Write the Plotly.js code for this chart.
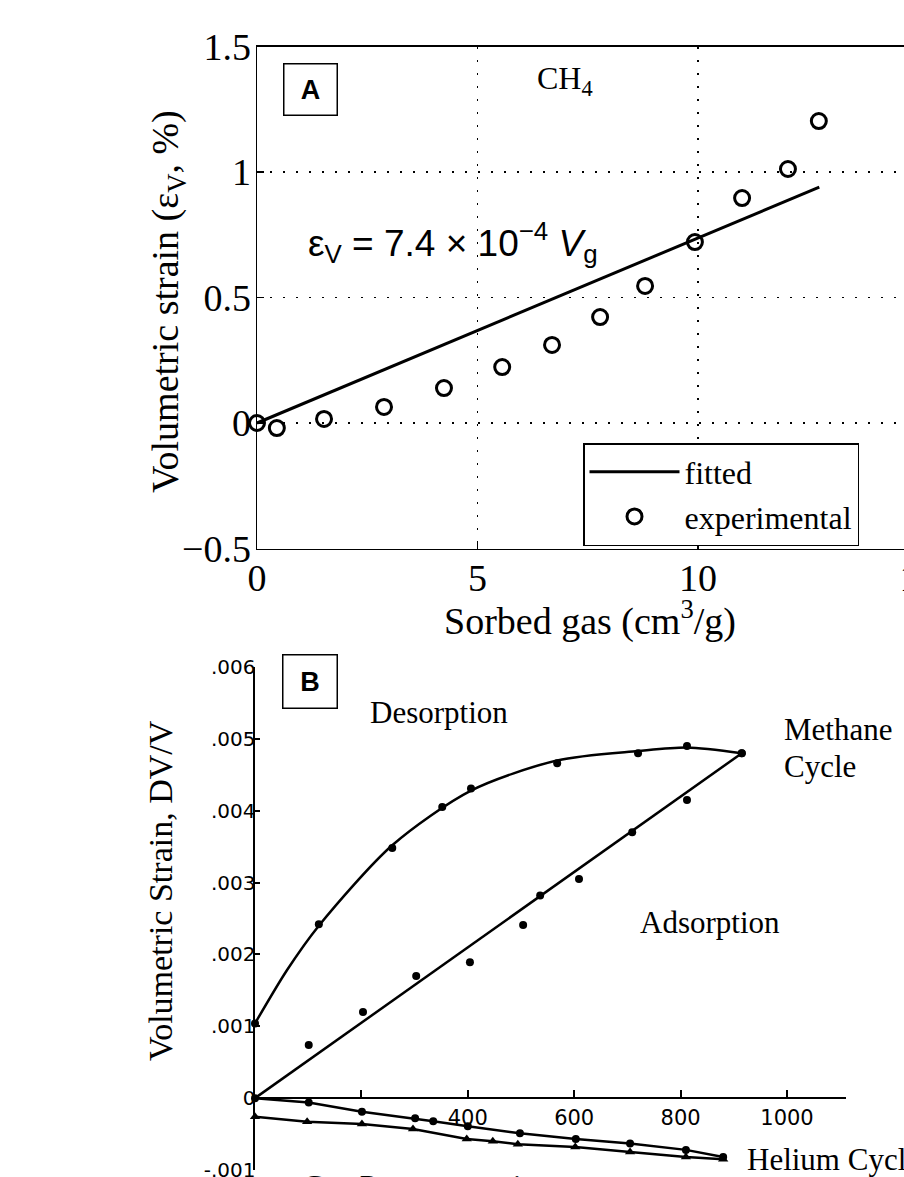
<!DOCTYPE html>
<html>
<head>
<meta charset="utf-8">
<script src="https://cdn.plot.ly/plotly-3.0.1.min.js"></script>
<style>
html,body{margin:0;padding:0;overflow:hidden;background:#fff;width:904px;height:1177px;}
#chart{width:960px;height:1230px;}
</style>
</head>
<body>
<div id="chart"></div>
<script>
// ---------- Panel A data (CH4, sorbed gas vs volumetric strain %) ----------
const sorbedGas   = [0, 0.45, 1.52, 2.88, 4.24, 5.56, 6.69, 7.78, 8.80, 9.93, 11.0, 12.04, 12.74];
const strainExp   = [0, -0.02, 0.016, 0.064, 0.139, 0.223, 0.311, 0.422, 0.546, 0.721, 0.896, 1.012, 1.203];
const fitGas      = [0, 12.75];
const fitStrain   = [0, 0.94];
const aXTickVals  = [0, 5, 10, 15];
const aXTickText  = ['0', '5', '10', '15'];
const aYTickVals  = [-0.5, 0, 0.5, 1, 1.5];
const aYTickText  = ['\u22120.5', '0', '0.5', '1', '1.5'];

// ---------- Panel B data (gas pressure psi vs volumetric strain DV/V) ----------
const desPressure = [0, 120, 258, 352, 406, 568, 720, 812, 915];
const desStrain   = [0.00104, 0.00242, 0.00348, 0.00405, 0.00431, 0.00466, 0.00480, 0.00490, 0.00480];
const desCurveP   = [0, 60, 120, 258, 406, 568, 720, 812, 915];
const desCurveS   = [0.00104, 0.00178, 0.0024, 0.00352, 0.00428, 0.0047, 0.00483, 0.00488, 0.00480];
const adsPressure = [101, 203, 303, 404, 504, 536, 609, 709, 812, 915];
const adsStrain   = [0.00074, 0.0012, 0.0017, 0.00189, 0.00241, 0.00282, 0.00305, 0.0037, 0.00415, 0.0048];
const adsLineP    = [0, 915];
const adsLineS    = [0, 0.0048];
const heUpP       = [0, 101, 201, 301, 335, 400, 498, 603, 705, 810, 880];
const heUpS       = [0, -0.00006, -0.00019, -0.00028, -0.00032, -0.00039, -0.00049, -0.00057, -0.00063, -0.00072, -0.00082];
const heLoP       = [0, 98, 201, 297, 398, 447, 494, 602, 705, 810, 880];
const heLoS       = [-0.00026, -0.00033, -0.00036, -0.00043, -0.00057, -0.0006, -0.00064, -0.00068, -0.00075, -0.00082, -0.00085];
const bXTickVals  = [400, 600, 800, 1000];
const bXTickText  = ['400', '600', '800', '1000'];
const bXMinorVals = [200];
const bYTickVals  = [-0.001, 0, 0.001, 0.002, 0.003, 0.004, 0.005, 0.006];
const bYTickText  = ['-.001', '0', '.001', '.002', '.003', '.004', '.005', '.006'];

// ---------- layout geometry ----------
const W = 960, H = 1230;
const fx = p => p / W;
const fy = p => 1 - p / H;
const serif = 'Liberation Serif, Times New Roman, serif';
const sans = 'Liberation Sans, Arial, sans-serif';
const scan = 'DejaVu Sans, Verdana, sans-serif';

const bYRange = [-0.001, 0.006];
const bYDom = [fy(1170), fy(667)];
const bZeroPos = bYDom[0] + (0 - bYRange[0]) / (bYRange[1] - bYRange[0]) * (bYDom[1] - bYDom[0]);

const traces = [
  {x: fitGas, y: fitStrain, type: 'scatter', mode: 'lines', name: 'fitted',
   line: {color: '#000', width: 3}, xaxis: 'x', yaxis: 'y', cliponaxis: false},
  {x: sorbedGas, y: strainExp, type: 'scatter', mode: 'markers', name: 'experimental',
   marker: {symbol: 'circle-open', size: 15, color: '#000', line: {width: 3, color: '#000'}},
   xaxis: 'x', yaxis: 'y', cliponaxis: false},
  // Panel B
  {x: desCurveP, y: desCurveS, type: 'scatter', mode: 'lines', line: {color: '#000', width: 2.5, shape: 'spline', smoothing: 0.8},
   xaxis: 'x2', yaxis: 'y2', showlegend: false, cliponaxis: false},
  {x: desPressure, y: desStrain, type: 'scatter', mode: 'markers', marker: {color: '#000', size: 8},
   xaxis: 'x2', yaxis: 'y2', showlegend: false, cliponaxis: false},
  {x: adsLineP, y: adsLineS, type: 'scatter', mode: 'lines', line: {color: '#000', width: 2.5},
   xaxis: 'x2', yaxis: 'y2', showlegend: false, cliponaxis: false},
  {x: adsPressure, y: adsStrain, type: 'scatter', mode: 'markers', marker: {color: '#000', size: 8},
   xaxis: 'x2', yaxis: 'y2', showlegend: false, cliponaxis: false},
  {x: heUpP, y: heUpS, type: 'scatter', mode: 'lines+markers', line: {color: '#000', width: 2.5},
   marker: {color: '#000', size: 8, symbol: 'circle'},
   xaxis: 'x2', yaxis: 'y2', showlegend: false, cliponaxis: false},
  {x: heLoP, y: heLoS, type: 'scatter', mode: 'lines+markers', line: {color: '#000', width: 2.5},
   marker: {color: '#000', size: 9, symbol: 'triangle-up'},
   xaxis: 'x2', yaxis: 'y2', showlegend: false, cliponaxis: false}
];

const gridDash = '2px,11px';
const layout = {
  width: W, height: H,
  margin: {l: 0, r: 0, t: 0, b: 0},
  paper_bgcolor: '#fff', plot_bgcolor: 'rgba(0,0,0,0)',
  font: {family: serif, color: '#000'},
  showlegend: true,
  xaxis: {
    domain: [fx(257), fx(918.5)], range: [0, 15], anchor: 'y',
    tickvals: aXTickVals, ticktext: aXTickText, tickfont: {family: serif, size: 38, color: '#000'},
    ticks: 'inside', ticklen: 7, tickwidth: 1.5, tickcolor: '#000', ticklabelstandoff: -5,
    showline: true, linecolor: '#000', linewidth: 1.5, mirror: true,
    showgrid: true, gridcolor: '#000', gridwidth: 1.3, griddash: gridDash, zeroline: false
  },
  yaxis: {
    domain: [fy(548.5), fy(46.5)], range: [-0.5, 1.5], anchor: 'x',
    tickvals: aYTickVals, ticktext: aYTickText, tickfont: {family: serif, size: 38, color: '#000'},
    ticks: 'inside', ticklen: 7, tickwidth: 1.5, tickcolor: '#000', ticklabelstandoff: -3,
    showline: true, linecolor: '#000', linewidth: 1.5, mirror: true,
    showgrid: true, gridcolor: '#000', gridwidth: 1.3, griddash: gridDash, zeroline: false
  },
  xaxis2: {
    domain: [fx(255), fx(255 + 1110 * 0.532)], range: [0, 1110], anchor: 'free', position: bZeroPos,
    tickvals: bXTickVals, ticktext: bXTickText, tickfont: {family: scan, size: 21, color: '#000'},
    ticks: 'inside', ticklen: 7, tickwidth: 2, tickcolor: '#000', ticklabelstandoff: 0,
    minor: {tickvals: bXMinorVals, ticks: 'inside', ticklen: 7, tickwidth: 2, tickcolor: '#000', showgrid: false},
    showline: true, linecolor: '#000', linewidth: 2.2, showgrid: false, zeroline: false
  },
  yaxis2: {
    domain: bYDom, range: bYRange, anchor: 'x2',
    tickvals: bYTickVals, ticktext: bYTickText, tickfont: {family: scan, size: 20, color: '#000'},
    ticks: 'inside', ticklen: 5, tickwidth: 2, tickcolor: '#000', ticklabelstandoff: -7,
    showline: true, linecolor: '#000', linewidth: 2.5, showgrid: false, zeroline: false
  },
  legend: {
    x: fx(583), y: fy(443), xanchor: 'left', yanchor: 'top',
    bordercolor: '#000', borderwidth: 1.5, bgcolor: '#fff',
    font: {family: serif, size: 32, color: '#000'}, itemwidth: 90, tracegroupgap: 0
  },
  annotations: [
    // Panel A
    {xref: 'paper', yref: 'paper', x: fx(310.5), y: fy(89.5), xanchor: 'center', yanchor: 'middle',
     text: '<b>A</b>', showarrow: false, font: {family: sans, size: 27, color: '#000'},
     width: 52, height: 50, borderpad: 0, bordercolor: '#000', borderwidth: 1.5, bgcolor: '#fff'},
    {xref: 'paper', yref: 'paper', x: fx(565), y: fy(80), xanchor: 'center', yanchor: 'middle',
     text: 'CH<sub>4</sub>', showarrow: false, font: {family: serif, size: 32, color: '#000'}},
    {xref: 'paper', yref: 'paper', x: fx(306), y: fy(242), xanchor: 'left', yanchor: 'middle',
     text: '\u03b5<sub>V</sub> = 7.4 \u00d7 10<sup>\u22124</sup> <i>V</i><sub>g</sub>', showarrow: false,
     font: {family: sans, size: 37, color: '#000'}},
    {xref: 'paper', yref: 'paper', x: fx(168), y: fy(302), xanchor: 'center', yanchor: 'middle', textangle: -90,
     text: 'Volumetric strain (\u03b5<sub>V</sub>, %)', showarrow: false, font: {family: serif, size: 38, color: '#000'}},
    {xref: 'paper', yref: 'paper', x: fx(590), y: fy(618), xanchor: 'center', yanchor: 'middle',
     text: 'Sorbed gas (cm<sup>3</sup>/g)', showarrow: false, font: {family: serif, size: 38, color: '#000'}},
    // Panel B
    {xref: 'paper', yref: 'paper', x: fx(310), y: fy(681), xanchor: 'center', yanchor: 'middle',
     text: '<b>B</b>', showarrow: false, font: {family: sans, size: 27, color: '#000'},
     width: 53, height: 52, borderpad: 0, bordercolor: '#000', borderwidth: 1.5, bgcolor: '#fff'},
    {xref: 'paper', yref: 'paper', x: fx(368), y: fy(712), xanchor: 'left', yanchor: 'middle',
     text: 'Desorption', showarrow: false, font: {family: serif, size: 31, color: '#000'}},
    {xref: 'paper', yref: 'paper', x: fx(782), y: fy(729), xanchor: 'left', yanchor: 'middle',
     text: 'Methane', showarrow: false, font: {family: serif, size: 31, color: '#000'}},
    {xref: 'paper', yref: 'paper', x: fx(782), y: fy(766), xanchor: 'left', yanchor: 'middle',
     text: 'Cycle', showarrow: false, font: {family: serif, size: 31, color: '#000'}},
    {xref: 'paper', yref: 'paper', x: fx(638), y: fy(922), xanchor: 'left', yanchor: 'middle',
     text: 'Adsorption', showarrow: false, font: {family: serif, size: 31, color: '#000'}},
    {xref: 'paper', yref: 'paper', x: fx(745), y: fy(1159), xanchor: 'left', yanchor: 'middle',
     text: 'Helium Cycle', showarrow: false, font: {family: serif, size: 31, color: '#000'}},
    {xref: 'paper', yref: 'paper', x: fx(160), y: fy(891), xanchor: 'center', yanchor: 'middle', textangle: -90,
     text: 'Volumetric Strain, DV/V', showarrow: false, font: {family: serif, size: 34, color: '#000'}},
    {xref: 'paper', yref: 'paper', x: fx(300), y: fy(1166), xanchor: 'left', yanchor: 'top',
     text: 'Gas Pressure, psi', showarrow: false, font: {family: serif, size: 32, color: '#000'}}
  ]
};

Plotly.newPlot('chart', traces, layout, {staticPlot: true, displayModeBar: false});
</script>
</body>
</html>
